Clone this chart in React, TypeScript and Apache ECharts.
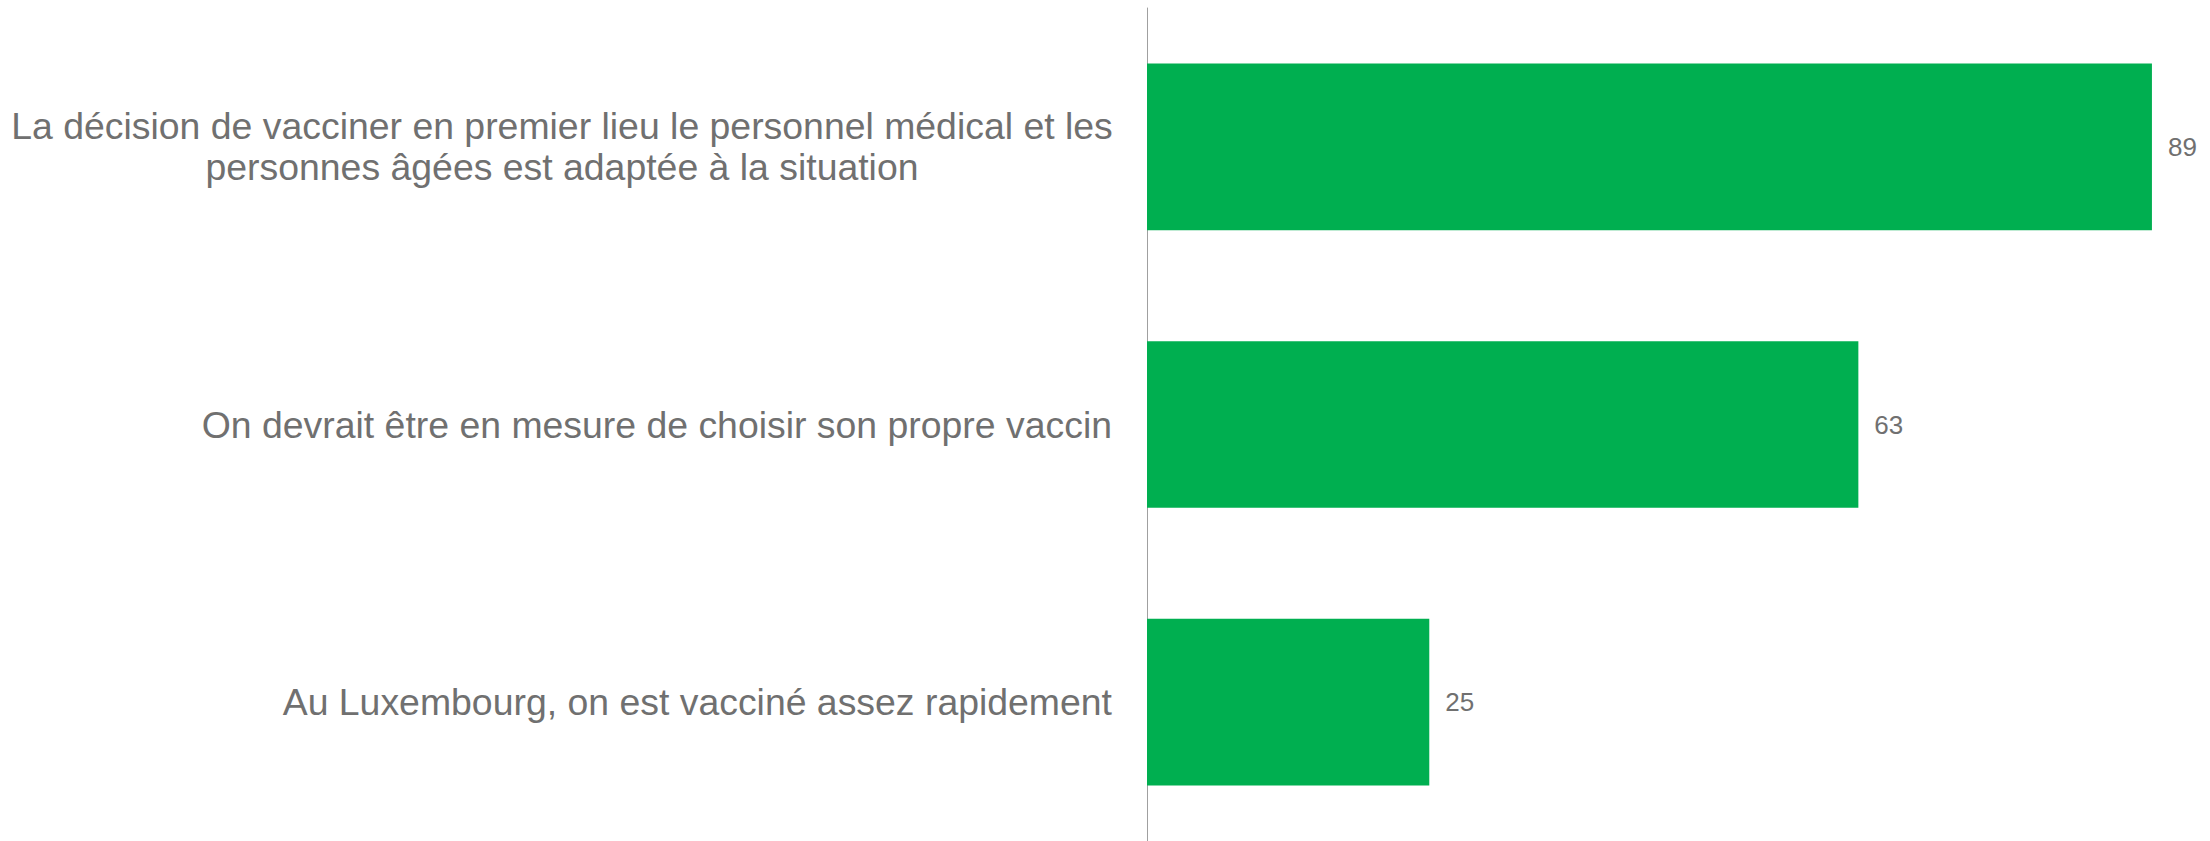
import React, { useEffect, useRef } from "react";
import * as echarts from "echarts";

const categories: string[] = [
  "La décision de vacciner en premier lieu le personnel médical et les\npersonnes âgées est adaptée à la situation",
  "On devrait être en mesure de choisir son propre vaccin",
  "Au Luxembourg, on est vacciné assez rapidement",
];
const values: number[] = [89, 63, 25];

const GRAY = "#707070";
const GREEN = "#00AF50";

export default function App() {
  const ref = useRef<HTMLDivElement>(null);
  useEffect(() => {
    if (!ref.current) return;
    const chart = echarts.init(ref.current, null, { renderer: "svg" });
    chart.setOption({
      animation: false,
      backgroundColor: "#ffffff",
      grid: { left: 1147, right: 41, top: 8, bottom: -4, containLabel: false },
      xAxis: {
        type: "value",
        min: 0,
        max: 90,
        show: false,
        splitLine: { show: false },
      },
      yAxis: {
        type: "category",
        inverse: true,
        data: categories.map((c, i) =>
          i === 0
            ? { value: c, textStyle: { align: "center", padding: [0, 1100, 10, 0] } }
            : c
        ),
        axisLine: { show: true, lineStyle: { color: "#a0a0a0", width: 1 } },
        axisTick: { show: false },
        splitLine: { show: false },
        axisLabel: {
          margin: 35,
          color: GRAY,
          fontSize: 37.4,
          lineHeight: 41,
          fontFamily: "Liberation Sans, Arial, sans-serif",
          align: "right",
        },
      },
      series: [
        {
          type: "bar",
          data: values,
          barCategoryGap: "40%",
          itemStyle: { color: GREEN },
          label: {
            show: true,
            position: "right",
            distance: 16,
            color: GRAY,
            fontSize: 26,
            fontFamily: "Liberation Sans, Arial, sans-serif",
          },
        },
      ],
    });
    return () => chart.dispose();
  }, []);
  return (
    <div
      ref={ref}
      style={{ position: "absolute", left: 0, top: 0, width: 2210, height: 841 }}
    />
  );
}
